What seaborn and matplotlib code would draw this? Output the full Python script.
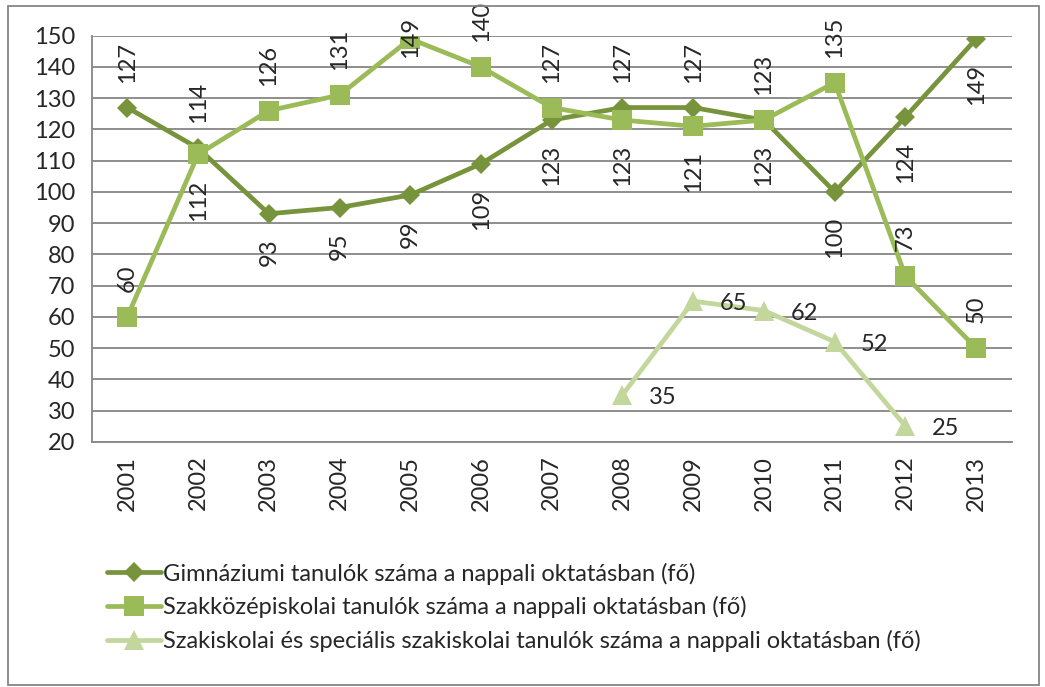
import numpy as np
import pandas as pd
import matplotlib
matplotlib.use("Agg")
import matplotlib.pyplot as plt
import seaborn as sns
from matplotlib.patches import Rectangle

evek = [str(e) for e in range(2001, 2014)]
gimnazium = [127, 114, 93, 95, 99, 109, 123, 127, 127, 123, 100, 124, 149]
szakkozep = [60, 112, 126, 131, 149, 140, 127, 123, 121, 123, 135, 73, 50]
szakiskola = [np.nan] * 7 + [35, 65, 62, 52, 25, np.nan]

nev_gim = "Gimnáziumi tanulók száma a nappali oktatásban (fő)"
nev_szk = "Szakközépiskolai tanulók száma a nappali oktatásban (fő)"
nev_szi = "Szakiskolai és speciális szakiskolai tanulók száma a nappali oktatásban (fő)"

# felirat iránya: +1 fölé, -1 alá, 0.1 = ponton (a 2005-ös érték a tengely tetején)
irany_gim = [1, 1, -1, -1, -1, -1, -1, 1, 1, 1, -1, -1, -1]
irany_szk = [1, -1, 1, 1, 0.1, 1, 1, -1, -1, -1, 1, 1, 1]

df = pd.DataFrame({"Ev": evek, nev_gim: gimnazium, nev_szk: szakkozep, nev_szi: szakiskola})
df["x"] = np.arange(len(evek))

sns.set_style("white")
plt.rcParams['font.family'] = ['Lato', 'DejaVu Sans']

fig = plt.figure(figsize=(10.45, 6.87), dpi=100)
ax = fig.add_axes([0.088, 0.357, 0.88, 0.591])

szin_gim = '#77933C'
szin_szk = '#9BBB59'
szin_szi = '#C3D69B'
betu = 17

sns.lineplot(data=df, x="x", y=nev_gim, ax=ax, color=szin_gim, lw=3.4, marker='D',
             markersize=10, markeredgewidth=0, label=nev_gim)
sns.lineplot(data=df, x="x", y=nev_szk, ax=ax, color=szin_szk, lw=3.4, marker='s',
             markersize=14, markeredgewidth=0, label=nev_szk)
sns.lineplot(data=df.dropna(subset=[nev_szi]), x="x", y=nev_szi, ax=ax, color=szin_szi, lw=3.4,
             marker='^', markersize=15, markeredgewidth=0, label=nev_szi)

for i, (v, d) in enumerate(zip(gimnazium, irany_gim)):
    ax.annotate(str(v), (i, v), xytext=(0, 18 * np.sign(d)), textcoords='offset points',
                rotation=90, ha='center', va='bottom' if d > 0 else 'top', fontsize=betu)
for i, (v, d) in enumerate(zip(szakkozep, irany_szk)):
    off = 18 * d if abs(d) == 1 else -14
    ax.annotate(str(v), (i, v), xytext=(0, off), textcoords='offset points',
                rotation=90, ha='center', va='bottom' if d > 0 else 'top', fontsize=betu)
for i, v in enumerate(szakiskola):
    if not np.isnan(v):
        ax.annotate(str(int(v)), (i, v), xytext=(19, -2), textcoords='offset points',
                    ha='left', va='center', fontsize=betu)

ax.set_xlim(-0.5, len(evek) - 0.5)
ax.set_ylim(20, 150)
ax.set_yticks(np.arange(20, 151, 10))
ax.set_xticks(df["x"])
ax.set_xticklabels(evek, rotation=90)
ax.set_xticks(np.arange(-0.5, len(evek), 1), minor=True)
ax.tick_params(axis='x', which='major', length=0, pad=10, labelsize=betu)
ax.tick_params(axis='x', which='minor', length=8, color='#868686', width=1.2, direction='out')
ax.tick_params(axis='y', length=8, color='#868686', width=1.2, direction='out', labelsize=betu, pad=4)
ax.yaxis.grid(True, color='#868686', lw=1.3)
ax.set_axisbelow(True)
ax.set_xlabel("")
ax.set_ylabel("")
for s in ['top', 'right']:
    ax.spines[s].set_visible(False)
for s in ['left', 'bottom']:
    ax.spines[s].set_color('#868686')
    ax.spines[s].set_linewidth(1.3)

ax.get_legend().remove()
h, l = ax.get_legend_handles_labels()
fig.legend(h, l, loc='upper left', bbox_to_anchor=(0.093, 0.195), frameon=False, fontsize=betu,
           labelspacing=0.5, handlelength=2.3, handletextpad=0.1, borderaxespad=0)

fig.patches.append(Rectangle((0.008, 0.003), 0.986, 0.988, transform=fig.transFigure,
                             fill=False, edgecolor='#868686', lw=1.3))

plt.savefig("out.png", dpi=100)
